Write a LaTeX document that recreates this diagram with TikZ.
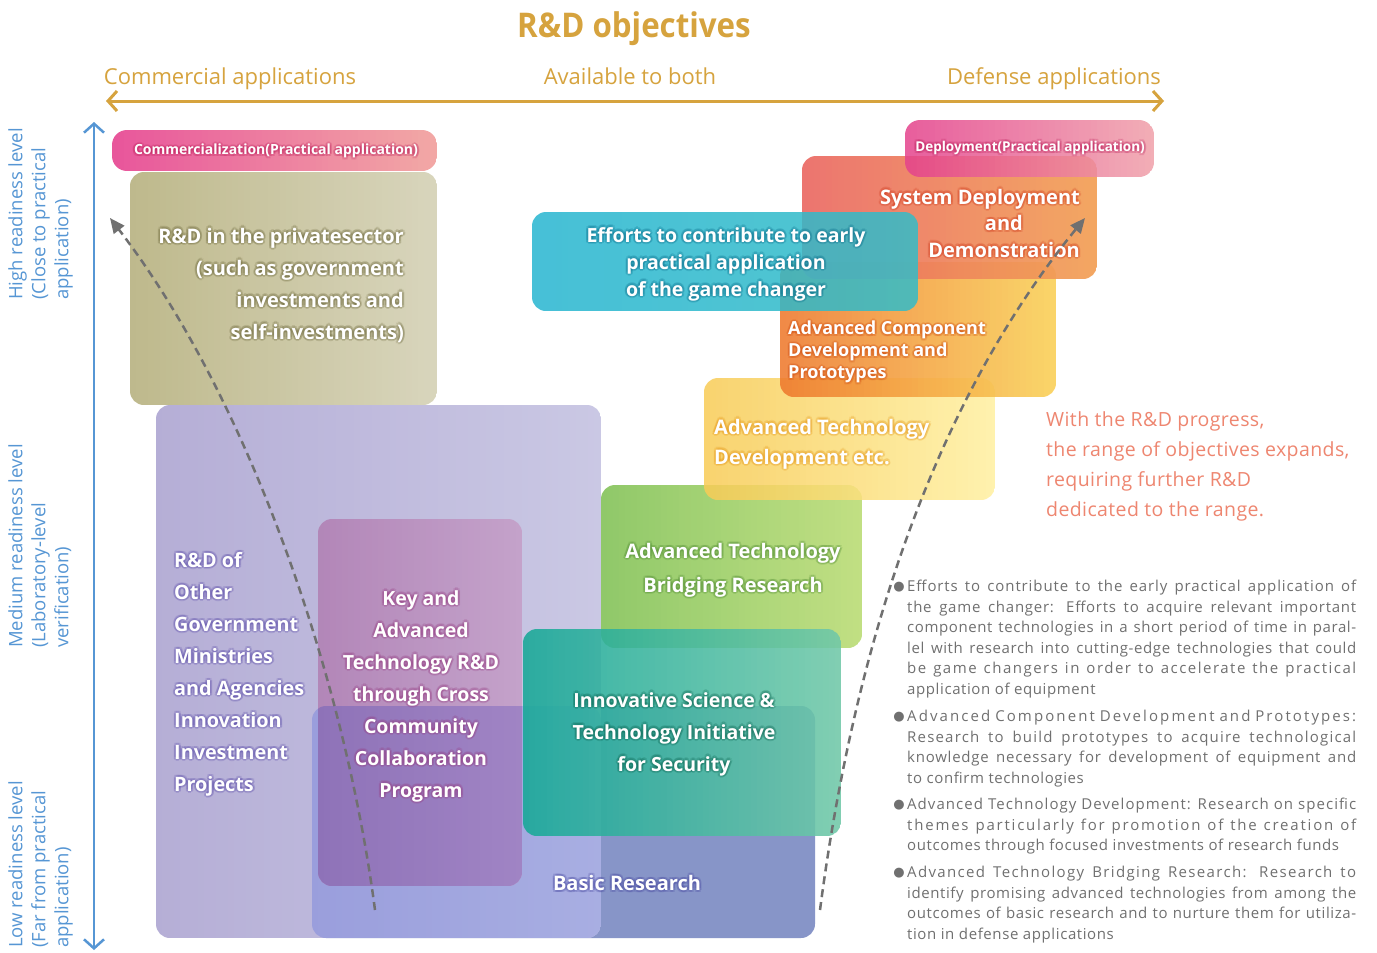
\documentclass[tikz,border=0pt]{standalone}
\usepackage{fontspec}
\setmainfont{Open Sans}
\newfontfamily\djv{DejaVu Sans}
\newfontfamily\descfam{Open Sans}[LetterSpace=4]
\usetikzlibrary{arrows.meta}
\definecolor{gold}{RGB}{214,163,62}
\definecolor{axblue}{RGB}{86,150,212}
\definecolor{salmon}{RGB}{238,134,112}
\definecolor{desc}{RGB}{112,112,112}
\definecolor{dashgray}{RGB}{112,112,112}
\definecolor{pinkL}{RGB}{232,85,155}
\definecolor{pinkR}{RGB}{242,168,165}
\definecolor{oliveL}{RGB}{190,185,140}
\definecolor{oliveR}{RGB}{216,213,188}
\definecolor{basicC}{RGB}{135,149,200}
\definecolor{lavL}{RGB}{181,174,214}
\definecolor{lavR}{RGB}{202,200,228}
\definecolor{lbL}{RGB}{154,158,220}
\definecolor{lbR}{RGB}{168,174,226}
\definecolor{keyL}{RGB}{178,134,184}
\definecolor{keyR}{RGB}{196,162,202}
\definecolor{kbL}{RGB}{142,114,184}
\definecolor{kbR}{RGB}{160,132,196}
\definecolor{greenL}{RGB}{138,198,98}
\definecolor{greenR}{RGB}{190,222,125}
\definecolor{tealL}{RGB}{22,168,152}
\definecolor{tealR}{RGB}{112,200,168}
\definecolor{yelL}{RGB}{248,203,85}
\definecolor{yelR}{RGB}{255,240,160}
\definecolor{oraL}{RGB}{238,120,45}
\definecolor{oraR}{RGB}{250,208,85}
\definecolor{redL}{RGB}{235,105,100}
\definecolor{redR}{RGB}{242,160,85}
\definecolor{cyanL}{RGB}{38,182,208}
\definecolor{cyanR}{RGB}{52,188,200}
\definecolor{depL}{RGB}{228,65,140}
\definecolor{depR}{RGB}{240,160,170}
\definecolor{gPink}{RGB}{190,30,90}
\definecolor{gOlive}{RGB}{105,100,55}
\definecolor{gLav}{RGB}{90,75,170}
\definecolor{gKey}{RGB}{150,60,130}
\definecolor{gBasic}{RGB}{70,70,160}
\definecolor{gGreen}{RGB}{80,140,50}
\definecolor{gTeal}{RGB}{10,100,80}
\definecolor{gYel}{RGB}{230,150,20}
\definecolor{gOra}{RGB}{210,80,20}
\definecolor{gRed}{RGB}{210,60,30}
\definecolor{gCyan}{RGB}{10,110,140}
\newcommand\fs[2]{\fontsize{#1}{#2}\selectfont}
\newcommand\jl[2][4]{\makebox[449pt][s]{\addfontfeature{LetterSpace=#1}#2}}
% gradient box from vertical strips: x1,y1,x2,y2,colL,colR,opacity,radius
\newcommand\gbox[8]{%
  \begin{scope}
  \clip[rounded corners=#8] (#1,#2) rectangle (#3,#4);
  \pgfmathtruncatemacro\nst{ceil((#3-#1)/6)}
  \foreach \i in {1,...,\nst} {
    \pgfmathtruncatemacro\xa{#1+(\i-1)*6}
    \pgfmathtruncatemacro\xb{min(#1+\i*6,#3)}
    \pgfmathtruncatemacro\pc{max(0,min(100,100-(\i-0.5)/(#3-#1)*600))}
    \fill[#5!\pc!#6, fill opacity=#7] (\xa,#2) rectangle (\xb,#4);
  }
  \end{scope}}
% glowing white text: #1 opts, #2 glow colour, #3 position, #4 name, #5 font, #6 text
\newcommand\gnode[6]{%
  \foreach \a in {0,45,...,315}{%
    \node[inner sep=0pt, #1, text=#2, opacity=0.2, xshift={2.2*cos(\a)}, yshift={2.2*sin(\a)}, font=#5] at (#3) {#6};}
  \node[inner sep=0pt, #1, text=white, font=#5] (#4) at (#3) {#6};}
\begin{document}
\begin{tikzpicture}[x=1pt,y=-1pt,
  >={Straight Barb[length=9pt,width=20pt]},
  dashline/.style={dashgray, line width=2.5pt, dash pattern=on 8pt off 5pt, -{Triangle[length=15pt,width=13pt]}},
  axlabel/.style={rotate=90, anchor=north west, align=left, text=axblue, font=\fs{18.5}{23}, inner sep=0pt},
  head/.style={text=gold, font=\fs{22}{26}, anchor=base, inner sep=0pt},
  desctext/.style={anchor=north west, inner sep=0pt, align=left, text=desc, font=\descfam\fs{15}{20.5}},
  bullet/.style={text=desc, font=\djv\fs{13}{13}, inner sep=0pt}]
\useasboundingbox[fill=white] (0,0) rectangle (1377,953);

% ---------- header ----------
\node[text=gold, font=\bfseries\fs{34}{40}] (title) at (634,29) {\scalebox{0.92}[1]{R\&D objectives}};
\node[head] (comm) at (230,84) {Commercial applications};
\node[head] (both) at (630,84) {Available to both};
\node[head] (def) at (1054,84) {Defense applications};
\coordinate (hl) at (106,101);
\coordinate (hr) at (1164,101);
\draw[gold, line width=3pt, <->] (hl) -- (hr);

% ---------- vertical axis ----------
\coordinate (vt) at (94,122);
\coordinate (vb) at (94,950);
\draw[axblue, line width=2.5pt, <->] (vt) -- (vb);
\node[axlabel] (hi) at (8,300) {High readiness level\\(Close to practical\\application)};
\node[axlabel] (med) at (8,648) {Medium readiness level\\(Laboratory-level\\verification)};
\node[axlabel] (low) at (8,948) {Low readiness level\\(Far from practical\\application)};

% ---------- boxes ----------
\gbox{112}{130}{437}{171}{pinkL}{pinkR}{1}{15pt}
\gbox{130}{172}{437}{405}{oliveL}{oliveR}{1}{14pt}
\fill[basicC, rounded corners=14pt] (312,706) rectangle (815,938);
\gbox{156}{405}{601}{938}{lavL}{lavR}{1}{14pt}
\begin{scope}
\clip[rounded corners=14pt] (312,706) rectangle (815,938);
\gbox{312}{706}{601}{938}{lbL}{lbR}{1}{14pt}
\end{scope}
\gbox{318}{519}{522}{886}{keyL}{keyR}{1}{14pt}
\begin{scope}
\clip[rounded corners=14pt] (312,706) rectangle (815,938);
\gbox{318}{519}{522}{886}{kbL}{kbR}{1}{14pt}
\end{scope}
\gbox{601}{485}{862}{648}{greenL}{greenR}{0.95}{14pt}
\gbox{523}{629}{841}{836}{tealL}{tealR}{0.88}{14pt}
\gbox{704}{378}{995}{500}{yelL}{yelR}{0.85}{14pt}
\gbox{780}{262}{1056}{397}{oraL}{oraR}{0.88}{14pt}
\gbox{802}{156}{1097}{279}{redL}{redR}{0.92}{14pt}
\gbox{532}{212}{918}{311}{cyanL}{cyanR}{0.85}{14pt}
\gbox{905}{120}{1154}{177}{depL}{depR}{0.85}{15pt}

% ---------- box texts ----------
\gnode{}{gPink}{276,151}{comtx}{\bfseries\fs{14}{16}}{Commercialization(Practical application)}
\gnode{}{gPink}{1030,148}{deptx}{\bfseries\fs{13.5}{16}}{Deployment(Practical application)}
\gnode{anchor=east, align=right}{gOlive}{404,285}{priv}{\bfseries\fs{20}{32}}{R\&D in the privatesector\\(such as government\\investments and\\self-investments)}
\gnode{anchor=west, align=left}{gLav}{174,674}{other}{\bfseries\fs{19.8}{32}}{R\&D of\\Other\\Government\\Ministries\\and Agencies\\Innovation\\Investment\\Projects}
\gnode{align=center}{gKey}{421,696}{key}{\bfseries\fs{19.5}{32}}{Key and\\Advanced\\Technology R\&D\\through Cross\\Community\\Collaboration\\Program}
\gnode{}{gBasic}{627,883}{basic}{\bfseries\fs{20}{24}}{Basic Research}
\gnode{align=center}{gGreen}{733,570}{bridge}{\bfseries\fs{20}{34}}{Advanced Technology\\Bridging Research}
\gnode{align=center}{gTeal}{674,734}{istis}{\bfseries\fs{19.5}{32}}{Innovative Science \&\\Technology Initiative\\for Security}
\gnode{anchor=west, align=left}{gYel}{714,444}{atd}{\bfseries\fs{20}{30}}{Advanced Technology\\Development etc.}
\gnode{anchor=west, align=left}{gOra}{788,352}{acd}{\bfseries\fs{18}{22}}{Advanced Component\\Development and\\Prototypes}
\gnode{anchor=east, align=right}{gRed}{1080,223}{sdd}{\bfseries\fs{20}{26.5}}{System Deployment\\and\rule{57pt}{0pt}\\Demonstration}
\gnode{align=center}{gCyan}{726,264}{early}{\bfseries\fs{19.5}{27}}{Efforts to contribute to early\\practical application\\of the game changer}

% ---------- dashed arrows ----------
\coordinate (ls) at (375,910);
\coordinate (le) at (110,218);
\coordinate (rs) at (820,910);
\coordinate (re) at (1085,218);
\draw[dashline] (ls) .. controls (345,680) and (250,400) .. (le);
\draw[dashline] (rs) .. controls (850,680) and (920,420) .. (re);

% ---------- right texts ----------
\node[anchor=north west, inner sep=0pt, align=left, text=salmon, font=\fs{19.5}{30}\addfontfeature{LetterSpace=2}] (prog) at (1046,411) {With the R\&D progress,\\the range of objectives expands,\\requiring further R\&D\\dedicated to the range.};

\node[bullet] (b1) at (899,587) {●};
\node[desctext] (d1) at (907,580) {\jl[6]{Efforts to contribute to the early practical application of}\\\jl[5]{the game changer: Efforts to acquire relevant important}\\\jl{component technologies in a short period of time in paral-}\\\jl{lel with research into cutting-edge technologies that could}\\\jl[10]{be game changers in order to accelerate the practical}\\application of equipment};
\node[bullet] (b2) at (899,717) {●};
\node[desctext] (d2) at (907,710) {\jl[14]{Advanced Component Development and Prototypes:}\\\jl[8]{Research to build prototypes to acquire technological}\\\jl[5]{knowledge necessary for development of equipment and}\\to confirm technologies};
\node[bullet] (b3) at (899,805) {●};
\node[desctext] (d3) at (907,798) {\jl[7]{Advanced Technology Development: Research on specific}\\\jl[12]{themes particularly for promotion of the creation of}\\outcomes through focused investments of research funds};
\node[bullet] (b4) at (899,873) {●};
\node[desctext] (d4) at (907,866) {\jl[9]{Advanced Technology Bridging Research: Research to}\\\jl{identify promising advanced technologies from among the}\\\jl{outcomes of basic research and to nurture them for utiliza-}\\tion in defense applications};
\end{tikzpicture}
\end{document}
